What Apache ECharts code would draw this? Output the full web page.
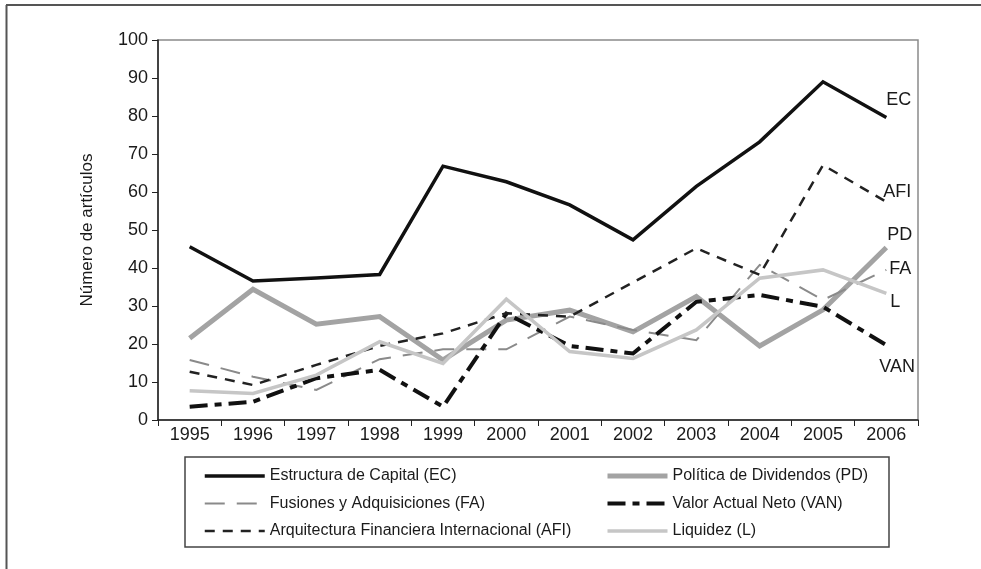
<!DOCTYPE html>
<html>
<head>
<meta charset="utf-8">
<script src="https://cdn.jsdelivr.net/npm/echarts@6/dist/echarts.min.js"></script>
<style>
  html, body { margin: 0; padding: 0; background: #fff; }
  #chart { width: 981px; height: 569px; }
</style>
</head>
<body>
<div id="chart"></div>
<script>
// años y número de artículos por tema
const years = ["1995", "1996", "1997", "1998", "1999", "2000", "2001", "2002", "2003", "2004", "2005", "2006"];
const ec  = [45.6, 36.6, 37.4, 38.3, 66.8, 62.7, 56.6, 47.4, 61.5, 73.2, 89.0, 79.6];
const pd  = [21.5, 34.4, 25.2, 27.2, 15.8, 26.3, 28.9, 23.2, 32.5, 19.5, 29.0, 45.4];
const fa  = [15.8, 11.4, 7.9, 16.0, 18.6, 18.6, 27.2, 23.7, 21.0, 40.8, 31.6, 39.5];
const van = [3.5, 4.8, 11.0, 13.2, 3.5, 28.0, 19.5, 17.5, 31.1, 32.9, 29.8, 19.7];
const afi = [12.7, 9.2, 14.5, 19.5, 22.8, 28.1, 27.2, 36.2, 45.2, 38.2, 67.1, 57.4];
const liq = [7.7, 7.0, 11.8, 20.6, 14.9, 31.8, 18.0, 16.2, 23.7, 37.3, 39.5, 33.3];
const yTicks = [0, 10, 20, 30, 40, 50, 60, 70, 80, 90, 100];

const FONT = "'Liberation Sans', Arial, sans-serif";

function serie(name, data, short, color, width, type, offset) {
  return {
    name: name,
    type: "line",
    data: data,
    symbol: "none",
    silent: true,
    lineStyle: { color: color, width: width, type: type, cap: "butt", join: "miter" },
    itemStyle: { color: color },
    endLabel: {
      show: true,
      formatter: short,
      distance: 0,
      offset: offset,
      color: "#1a1a1a",
      fontSize: 18,
      fontFamily: FONT
    },
    z: 3
  };
}

const legendBase = {
  orient: "vertical", top: 468, padding: 0,
  itemWidth: 60, itemHeight: 16, itemGap: 11.5,
  itemStyle: { opacity: 0 },
  lineStyle: { width: "inherit" },
  textStyle: { fontSize: 16, color: "#1a1a1a", fontFamily: FONT, lineHeight: 16 }
};

let chart = echarts.init(document.getElementById("chart"));
chart.setOption({
  animation: false,
  backgroundColor: "#fff",
  grid: {
    left: 158, right: 63, top: 40, bottom: 149,
    show: true, borderColor: "#8a8a8a", borderWidth: 1.5
  },
  legend: [
    Object.assign({}, legendBase, {
      data: ["Estructura de Capital (EC)", "Fusiones y Adquisiciones (FA)", "Arquitectura Financiera Internacional (AFI)"],
      left: 203
    }),
    Object.assign({}, legendBase, {
      data: ["Política de Dividendos (PD)", "Valor Actual Neto (VAN)", "Liquidez (L)"],
      left: 605
    })
  ],
  graphic: [
    { type: "rect", shape: { x: 185, y: 457, width: 704, height: 90 },
      style: { fill: "none", stroke: "#444", lineWidth: 1.5 }, silent: true },
    { type: "line", shape: { x1: 6, y1: 5, x2: 981, y2: 5 },
      style: { stroke: "#555", lineWidth: 2 }, silent: true },
    { type: "line", shape: { x1: 6.5, y1: 5, x2: 6.5, y2: 569 },
      style: { stroke: "#555", lineWidth: 2 }, silent: true }
  ],
  xAxis: {
    type: "category",
    data: years,
    boundaryGap: true,
    axisLine: { lineStyle: { color: "#222", width: 1.5 } },
    axisTick: { show: true, length: 6, lineStyle: { color: "#222" } },
    axisLabel: { fontSize: 18, color: "#1a1a1a", fontFamily: FONT, margin: 6 }
  },
  yAxis: {
    type: "value",
    min: yTicks[0], max: yTicks[yTicks.length - 1], interval: 10,
    name: "Número de artículos",
    nameLocation: "middle",
    nameGap: 62,
    nameRotate: 90,
    nameTextStyle: { fontSize: 17, color: "#1a1a1a", fontFamily: FONT },
    axisLine: { show: true, lineStyle: { color: "#222", width: 1.5 } },
    axisTick: { show: true, length: 6, lineStyle: { color: "#222" } },
    axisLabel: { fontSize: 18, color: "#1a1a1a", fontFamily: FONT, margin: 10 },
    splitLine: { show: false }
  },
  series: [
    serie("Estructura de Capital (EC)", ec, "EC", "#111", 3.5, "solid", [0, -17]),
    serie("Política de Dividendos (PD)", pd, "PD", "#a3a3a3", 5, "solid", [1, -12]),
    serie("Fusiones y Adquisiciones (FA)", fa, "FA", "#8a8a8a", 2, [20, 12], [3, -1]),
    serie("Valor Actual Neto (VAN)", van, "VAN", "#111", 4, [18, 7, 7, 7], [-7, 22]),
    serie("Arquitectura Financiera Internacional (AFI)", afi, "AFI", "#222", 2.5, [10, 8], [-3, -10]),
    serie("Liquidez (L)", liq, "L", "#c6c6c6", 3.5, "solid", [4, 8.5])
  ]
});
</script>
</body>
</html>
